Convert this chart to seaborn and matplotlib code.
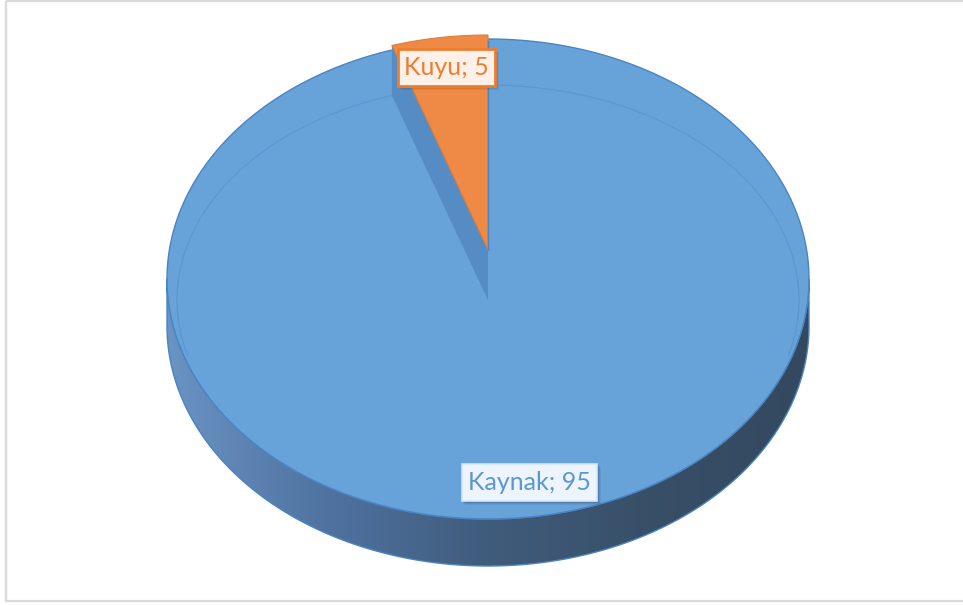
import numpy as np
import matplotlib
matplotlib.use("Agg")
import matplotlib.pyplot as plt
from matplotlib.patches import Polygon, Rectangle
from matplotlib.colors import LinearSegmentedColormap
import seaborn as sns

# ---- data -------------------------------------------------------------
categories = ["Kaynak", "Kuyu"]
values = [95, 5]
label_texts = [f"{c}; {v}" for c, v in zip(categories, values)]

# ---- style ------------------------------------------------------------
sns.set_theme(style="white")
plt.rcParams["font.family"] = ["Lato", "DejaVu Sans"]

face_colors = ["#67a2d8", "#ef8a46"]
text_colors = ["#5a97d2", "#ed7d31"]
box_fill = ["#eef4fb", "#fdf0e8"]
box_edge = ["#d6e5f5", "#ed7d31"]
cut_color = "#548cc3"
edge_color = "#4a84c2"
side_cmap = LinearSegmentedColormap.from_list(
    "side", ["#6a94c4", "#4f72a0", "#405c7c", "#384f68", "#34495f"])

W, H = 963, 605
fig = plt.figure(figsize=(W / 100, H / 100), dpi=100)
ax = fig.add_axes([0, 0, 1, 1])
ax.set_xlim(0, W)
ax.set_ylim(H, 0)
ax.axis("off")

# chart area border
ax.add_patch(Rectangle((5.5, 0.5), 970, 600, fill=False, ec="#d9d9d9", lw=1.6, zorder=0))

# ---- pie geometry (screen pixels) ------------------------------------
cx = 488
face_cy, face_rx, face_ry = 300, 311, 215   # slice top faces
rim_cy, rim_rx, rim_ry = 279, 321, 240      # outer silhouette of the top
depth = 47
explode_dy = -50                            # small slice pulled back


def arc_pts(cy, rx, ry, a0, a1, x0=cx, n=300):
    t = np.radians(np.linspace(a0, a1, n))
    return np.column_stack([x0 + rx * np.cos(t), cy - ry * np.sin(t)])


# slice angles: start at 12 o'clock, go clockwise
total = float(sum(values))
spans = []
a = 90.0
for v in values:
    sweep = 360.0 * v / total
    spans.append((a - sweep, a))
    a -= sweep

# ---- side wall ---------------------------------------------------------
side_poly = np.vstack([
    arc_pts(rim_cy, rim_rx, rim_ry, 180, 360),
    arc_pts(rim_cy + depth, rim_rx, rim_ry, 360, 180),
])
side_patch = Polygon(side_poly, closed=True, fc="none", ec=edge_color, lw=1.0, zorder=2)
ax.add_patch(side_patch)
grad = np.linspace(0, 1, 256).reshape(1, -1)
im = ax.imshow(grad, cmap=side_cmap, aspect="auto", zorder=1,
               extent=[cx - rim_rx, cx + rim_rx, rim_cy + depth + rim_ry, rim_cy])
im.set_clip_path(side_patch)

# ---- top surface -------------------------------------------------------
top = Polygon(arc_pts(rim_cy, rim_rx, rim_ry, 0, 360), closed=True,
              fc=face_colors[0], ec=edge_color, lw=1.0, zorder=3)
ax.add_patch(top)
# bevel line of the top face
ax.plot(*arc_pts(face_cy, face_rx, face_ry, -15, 195).T, color="#5790cb",
        lw=0.9, alpha=0.6, zorder=4)

# small slice occupies the last part of the turn, just left of 12 o'clock
a_lo = 90.0
a_hi = 90.0 + 360.0 * values[1] / total

# cut face of the large slice, exposed by the pulled-back slice
rim_pt = arc_pts(face_cy, face_rx, face_ry, a_hi, a_hi, n=1)[0]
cut = Polygon([(cx, face_cy), rim_pt, (rim_pt[0], rim_pt[1] + explode_dy),
               (cx, face_cy + explode_dy)], closed=True, fc=cut_color, ec="none", zorder=5)
ax.add_patch(cut)

# small slice top face
small_face = np.vstack([[(cx, face_cy + explode_dy)],
                        arc_pts(face_cy + explode_dy, face_rx, face_ry, a_lo, a_hi)])
ax.add_patch(Polygon(small_face, closed=True, fc=face_colors[1], ec="#e07a35",
                     lw=0.8, zorder=6))
ax.plot([cx, cx], [face_cy + explode_dy, rim_cy - rim_ry + 2], color=edge_color,
        lw=1.0, zorder=6)

# ---- data labels ---------------------------------------------------------
k = 0.86
pad_x, pad_y = 6, 8
texts = []
for i, (a0, a1) in enumerate(spans):
    mid = np.radians((a0 + a1) / 2)
    cy = face_cy + (explode_dy if i == 1 else 0)
    lx = cx + k * face_rx * np.cos(mid)
    ly = cy - k * face_ry * np.sin(mid)
    t = ax.text(lx, ly, label_texts[i], ha="center", va="center", fontsize=18,
                color=text_colors[i], zorder=9)
    texts.append(t)

fig.canvas.draw()
renderer = fig.canvas.get_renderer()
inv = ax.transData.inverted()
for i, t in enumerate(texts):
    bb = t.get_window_extent(renderer)
    (x0, y1), (x1, y0) = inv.transform([[bb.x0, bb.y0], [bb.x1, bb.y1]])
    x0, x1 = x0 - pad_x, x1 + pad_x
    y0, y1 = y0 - pad_y + 1, y1 + pad_y - 1
    # soft shadow behind the label box
    for s, al in ((4, 0.05), (3, 0.07), (2, 0.09)):
        ax.add_patch(Rectangle((x0 + s - 1, y0 + s - 1), x1 - x0 + 1, y1 - y0 + 1,
                               fc="#000000", ec="none", alpha=al, zorder=7))
    ax.add_patch(Rectangle((x0, y0), x1 - x0, y1 - y0, fc=box_fill[i], ec=box_edge[i],
                           lw=2.0 if i == 1 else 1.2, zorder=8))

fig.savefig("out.png", dpi=100, facecolor="white")
